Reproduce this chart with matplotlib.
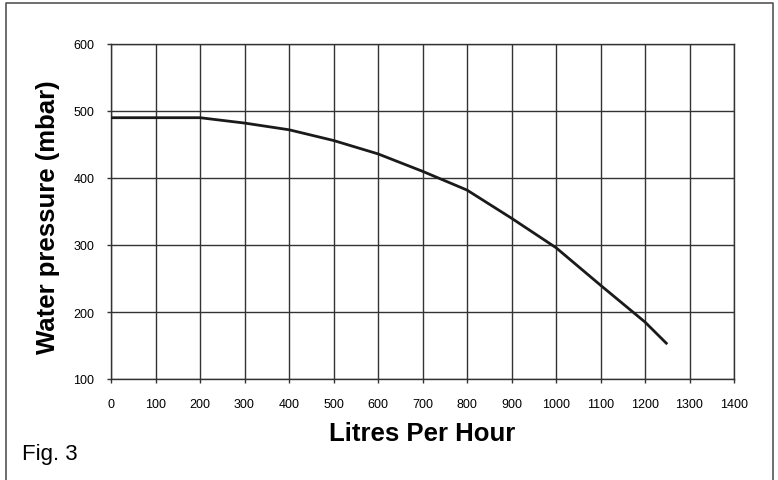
import matplotlib.pyplot as plt
from matplotlib.lines import Line2D

plt.rcParams['font.family'] = ['Liberation Sans', 'DejaVu Sans']

# flow (litres per hour) vs water pressure (mbar)
flow = [0, 200, 300, 400, 500, 600, 700, 800, 900, 1000, 1100, 1200, 1250]
pressure = [490, 490, 482, 472, 456, 436, 410, 382, 340, 296, 240, 185, 152]

x_ticks = list(range(0, 1401, 100))
y_ticks = [100, 200, 300, 400, 500, 600]

W, H = 778, 481
fig = plt.figure(figsize=(W / 100, H / 100), dpi=100)
ax = fig.add_axes([111 / W, 1 - 380 / H, 623 / W, 335 / H])

ax.plot(flow, pressure, color='#1a1a1a', lw=2.0, solid_capstyle='butt', zorder=3)

ax.set_xlim(0, 1400)
ax.set_ylim(100, 600)
ax.set_xticks(x_ticks)
ax.set_yticks(y_ticks)
ax.tick_params(axis='x', labelsize=9, pad=11, length=3, width=1, color='#333333')
ax.tick_params(axis='y', labelsize=9, pad=9, length=3, width=1, color='#333333')
ax.grid(True, color='#333333', lw=1)
for s in ax.spines.values():
    s.set_color('#333333')
    s.set_linewidth(1)

fig.text(422 / W, 1 - 434 / H, 'Litres Per Hour', fontsize=18.5, fontweight='bold',
         ha='center', va='center')
fig.text(48 / W, 1 - 217 / H, 'Water pressure (mbar)', fontsize=18.5, fontweight='bold',
         ha='center', va='center', rotation=90)
fig.text(22 / W, 1 - 455 / H, 'Fig. 3', fontsize=16, va='center', ha='left')

# page frame (left, top, right)
x0, x1 = 6 / W, 773 / W
y0, y1 = 0.0, 1 - 4 / H
fig.add_artist(Line2D([x0, x0, x1, x1], [y0, y1, y1, y0], transform=fig.transFigure,
                      color='#555555', lw=1.2))

fig.savefig('out.png', dpi=100)
